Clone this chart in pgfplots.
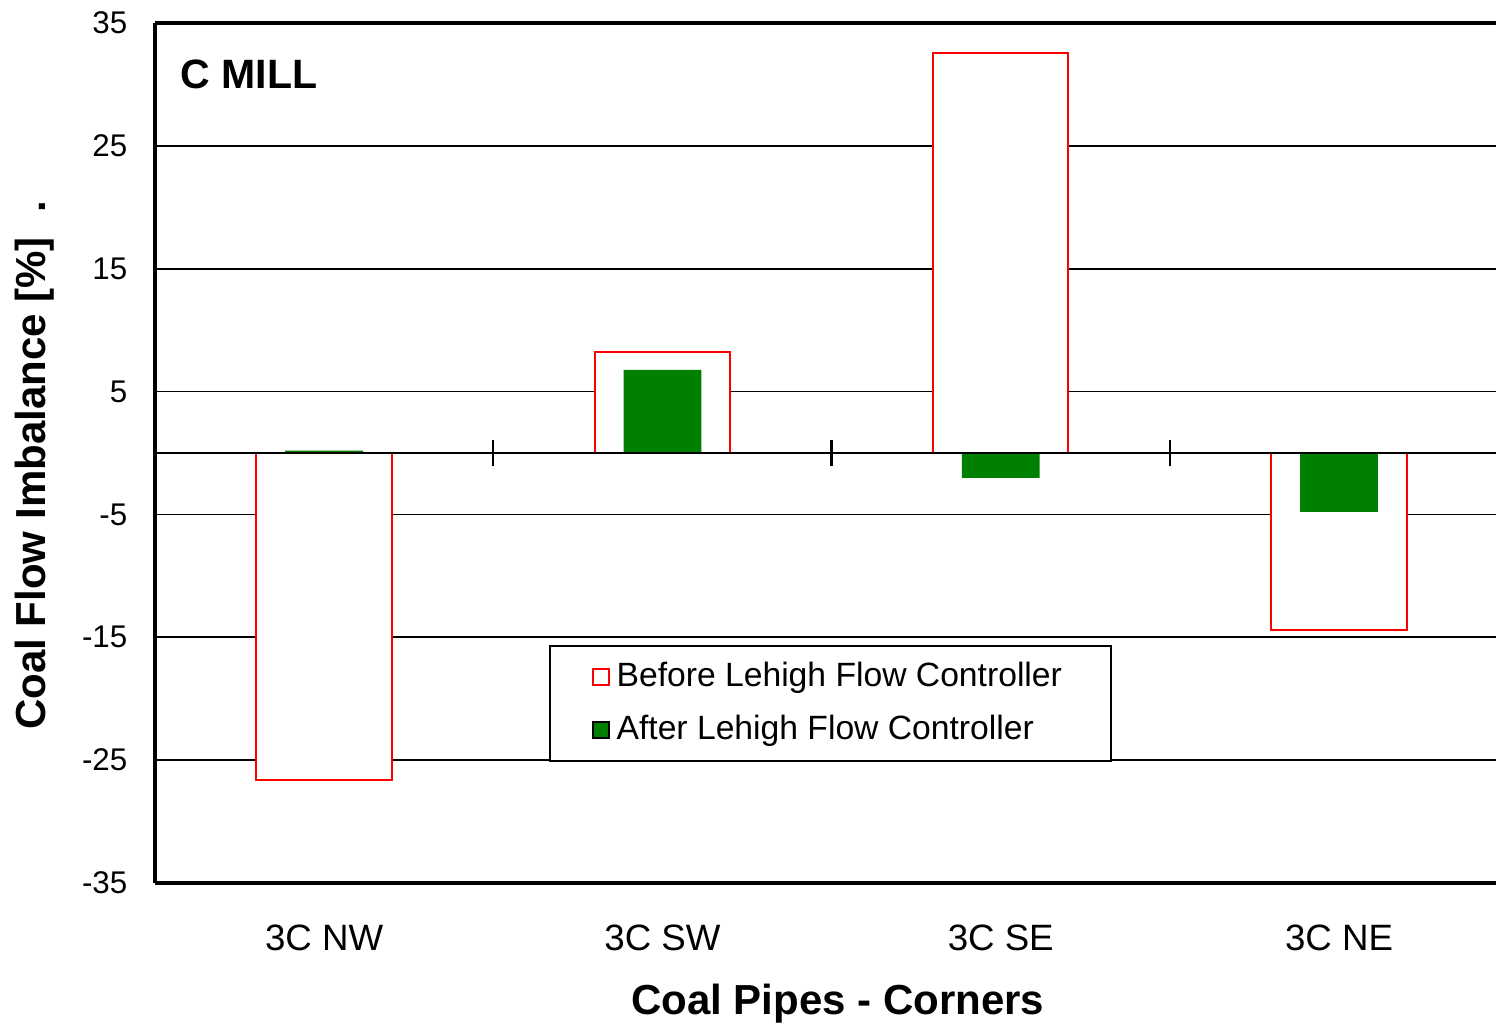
\documentclass[border=0pt]{standalone}
\usepackage{pgfplots}
\pgfplotsset{compat=1.18}
\usepackage{fontspec}
\setmainfont{Liberation Sans}
\definecolor{beforered}{RGB}{255,0,0}
\definecolor{aftergreen}{RGB}{0,128,0}

\begin{document}
\begin{tikzpicture}
\begin{axis}[
    scale only axis,
    width=402.3pt, height=258pt,
    xmin=-0.5, xmax=3.464,
    ymin=-35, ymax=35,
    ytick={-35,-25,-15,-5,5,15,25,35},
    xtick={0,1,2,3},
    xticklabels={3C NW,3C SW,3C SE,3C NE},
    axis x line=box, axis y line=left,
    axis line style={line width=1pt, -},
    ymajorgrids,
    grid style={black, line width=0.5pt},
    major tick length=0pt,
    /pgf/number format/assume math mode=true,
    yticklabel style={font=\fontsize{9.4}{11}\selectfont, anchor=east, inner sep=0pt, xshift=-8.1pt},
    xticklabel style={font=\fontsize{11}{13}\selectfont, anchor=center, inner sep=0pt, yshift=-16.5pt},
    every axis y label/.style={at={(rel axis cs:0,0.486)}, xshift=-36pt, rotate=90, anchor=center,
        font=\bfseries\fontsize{12.6}{15}\selectfont},
    every axis x label/.style={at={(rel axis cs:0.509,0)}, yshift=-36.3pt, anchor=center,
        font=\bfseries\fontsize{12.6}{15}\selectfont},
    ylabel={Coal Flow Imbalance [\%]\hspace{0.6em}.},
    xlabel={Coal Pipes - Corners},
    ybar, bar shift=0pt,
    legend image code/.code={\draw[#1, line width=0.5pt] (0pt,-2.4pt) rectangle (4.8pt,2.4pt);},
    legend cell align=left,
    legend style={at={(rel axis cs:0.294,0.277)}, anchor=north west, draw=black, line width=0.6pt,
        fill=white, font=\fontsize{10.1}{12}\selectfont, inner xsep=12.6pt, inner ysep=3pt,
        row sep=3pt, nodes={inner sep=2pt}},
]
\addplot[draw=beforered, fill=white, line width=0.6pt, bar width=0.4]
    coordinates {(0,-26.6) (1,8.22) (2,32.56) (3,-14.4)};
\addplot[draw=none, fill=aftergreen, bar width=0.23]
    coordinates {(0,0.2) (1,6.76) (2,-2.03) (3,-4.8)};
\legend{Before Lehigh Flow Controller, After Lehigh Flow Controller}

% zero line with category separators
\draw[black, line width=0.6pt] (axis cs:-0.5,0) -- (axis cs:3.464,0);
\draw[black, line width=0.7pt] ([yshift=3.8pt]axis cs:0.5,0) -- ([yshift=-3.8pt]axis cs:0.5,0);
\draw[black, line width=0.7pt] ([yshift=3.8pt]axis cs:1.5,0) -- ([yshift=-3.8pt]axis cs:1.5,0);
\draw[black, line width=0.7pt] ([yshift=3.8pt]axis cs:2.5,0) -- ([yshift=-3.8pt]axis cs:2.5,0);

\node[anchor=west, inner sep=0pt, font=\bfseries\fontsize{12.3}{14}\selectfont] at (rel axis cs:0.0186,0.9407) {C MILL};
\end{axis}
\pgfresetboundingbox
\path[use as bounding box] ([shift={(-46.5pt,-42.9pt)}]current axis.south west)
    rectangle ([shift={(0pt,6.9pt)}]current axis.north east);
\end{tikzpicture}
\end{document}
